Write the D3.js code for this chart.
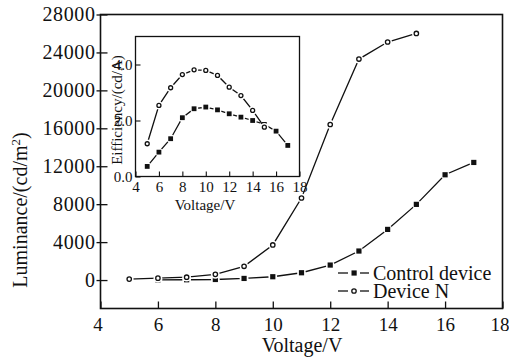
<!DOCTYPE html>
<html>
<head>
<meta charset="utf-8">
<script src="https://cdn.jsdelivr.net/npm/d3@7"></script>
<style>
  body { margin: 0; background: #fff; }
  svg text { font-family: "Liberation Serif", "Times New Roman", serif; fill: #111; }
</style>
</head>
<body>
<div id="chart"></div>
<script>
// main plot: luminance vs voltage
var lumVoltN = [5, 6, 7, 8, 9, 10, 11, 12, 13, 14, 15];
var lumDeviceN = [100, 200, 300, 600, 1450, 3700, 8650, 16400, 23300, 25100, 26000];
var lumVoltC = [6, 7, 8, 9, 10, 11, 12, 13, 14, 15, 16, 17];
var lumControl = [20, 30, 60, 170, 350, 770, 1580, 3060, 5340, 7980, 11100, 12400];

// inset: efficiency vs voltage
var effVoltN = [5, 6, 7, 8, 9, 10, 11, 12, 13, 14, 15];
var effDeviceN = [1.17, 2.54, 3.17, 3.64, 3.81, 3.79, 3.61, 3.19, 2.89, 2.36, 1.76];
var effVoltC = [5, 6, 7, 8, 9, 10, 11, 12, 13, 14, 15, 16, 17];
var effControl = [0.36, 0.87, 1.35, 2.1, 2.42, 2.48, 2.38, 2.24, 2.12, 2.0, 1.86, 1.62, 1.11];

var mainXTicks = [4, 6, 8, 10, 12, 14, 16, 18];
var mainYTicks = [0, 4000, 8000, 12000, 16000, 20000, 24000, 28000];
var insetXTicks = [4, 6, 8, 10, 12, 14, 16, 18];
var insetYTicks = [0, 2, 4];
var seriesNames = ["Control device", "Device N"];

var serif = "'Liberation Serif', 'Times New Roman', serif";
var W = 509, H = 359;
var svg = d3.select("#chart").append("svg")
  .attr("width", W)
  .attr("height", H);

// ---- main plot ----
var m = { left: 100.5, top: 14.5, right: 502.5, bottom: 308.5 };
var x = d3.scaleLinear().domain([4, 18]).range([m.left, m.right]);
var y = d3.scaleLinear().domain([-3000, 28000]).range([m.bottom, m.top]);

svg.append("rect")
  .attr("x", m.left).attr("y", m.top)
  .attr("width", m.right - m.left).attr("height", m.bottom - m.top)
  .style("fill", "none").style("stroke", "#111").style("stroke-width", 1.6);

// x ticks (inward)
svg.append("g")
  .attr("transform", "translate(0," + m.bottom + ")")
  .call(d3.axisBottom(x).tickValues(mainXTicks).tickSizeInner(-7).tickSizeOuter(0))
  .attr("font-family", serif)
  .call(g => g.select(".domain").remove())
  .call(g => g.selectAll("line").style("stroke", "#111").style("stroke-width", 1.3))
  .call(g => g.selectAll("text").style("font-family", serif).style("font-size", "19px")
    .attr("dy", "0.71em").attr("y", 9)
    .attr("dx", d => d == 18 ? -3 : (d == 4 ? -3 : 0)));

// y ticks (crossing the frame)
svg.append("g")
  .attr("transform", "translate(" + m.left + ",0)")
  .call(d3.axisLeft(y).tickValues(mainYTicks).tickSize(4).tickSizeOuter(0).tickFormat(d3.format("d")))
  .attr("font-family", serif)
  .call(g => g.select(".domain").remove())
  .call(g => g.selectAll("line").attr("x2", 7).attr("x1", -4).style("stroke", "#111").style("stroke-width", 1.3))
  .call(g => g.selectAll("text").style("font-family", serif).style("font-size", "20px")
    .style("letter-spacing", "0.6px").attr("x", -5));

svg.append("text")
  .attr("x", 302).attr("y", 352)
  .style("text-anchor", "middle").style("font-size", "20px")
  .text("Voltage/V");

var yt = svg.append("text")
  .attr("transform", "translate(27,210) rotate(-90)")
  .style("text-anchor", "middle").style("font-size", "20px");
yt.append("tspan").text("Luminance/(cd/m");
yt.append("tspan").attr("dy", -7).style("font-size", "13px").text("2");
yt.append("tspan").attr("dy", 7).text(")");

function drawSeries(g, xs, ys, sx, sy, kind, size) {
  g.append("path")
    .datum(ys)
    .attr("d", d3.line().x((d, i) => sx(xs[i])).y(d => sy(d)))
    .style("fill", "none").style("stroke", "#111").style("stroke-width", 1.3);
  // white halos leave small gaps around markers
  g.selectAll(".halo").data(ys).enter().append("circle")
    .attr("cx", (d, i) => sx(xs[i])).attr("cy", d => sy(d))
    .attr("r", size + 1.8).style("fill", "#fff");
  if (kind == "square") {
    g.selectAll(".mk").data(ys).enter().append("rect")
      .attr("x", (d, i) => sx(xs[i]) - size).attr("y", d => sy(d) - size)
      .attr("width", size * 2).attr("height", size * 2)
      .style("fill", "#111");
  } else {
    g.selectAll(".mk").data(ys).enter().append("circle")
      .attr("cx", (d, i) => sx(xs[i])).attr("cy", d => sy(d))
      .attr("r", size - 0.4)
      .style("fill", "#fff").style("stroke", "#111").style("stroke-width", 1.3);
  }
}

var gMain = svg.append("g");
drawSeries(gMain.append("g"), lumVoltC, lumControl, x, y, "square", 2.6);
drawSeries(gMain.append("g"), lumVoltN, lumDeviceN, x, y, "circle", 2.6);

// legend
var legend = svg.append("g");
seriesNames.forEach(function (name, i) {
  var ly = 273 + i * 18;
  legend.append("line").attr("x1", 338).attr("x2", 369).attr("y1", ly).attr("y2", ly)
    .style("stroke", "#111").style("stroke-width", 1.3);
  legend.append("rect").attr("x", 348).attr("y", ly - 4).attr("width", 12).attr("height", 8).style("fill", "#fff");
  if (i == 0) {
    legend.append("rect").attr("x", 351.5).attr("y", ly - 2.6).attr("width", 5.2).attr("height", 5.2).style("fill", "#111");
  } else {
    legend.append("circle").attr("cx", 354).attr("cy", ly).attr("r", 2.2)
      .style("fill", "#fff").style("stroke", "#111").style("stroke-width", 1.3);
  }
  legend.append("text").attr("x", 373).attr("y", ly + 7)
    .style("font-size", "20px").text(name);
});

// ---- inset ----
var n = { left: 135.5, top: 36.5, right: 299.5, bottom: 176.5 };
var ix = d3.scaleLinear().domain([4, 18]).range([n.left, n.right]);
var iy = d3.scaleLinear().domain([0, 5]).range([n.bottom, n.top]);

svg.append("rect")
  .attr("x", n.left).attr("y", n.top)
  .attr("width", n.right - n.left).attr("height", n.bottom - n.top)
  .style("fill", "#fff").style("stroke", "#111").style("stroke-width", 1.3);

svg.append("g")
  .attr("transform", "translate(0," + n.bottom + ")")
  .call(d3.axisBottom(ix).tickValues(insetXTicks).tickSizeInner(-5).tickSizeOuter(0))
  .attr("font-family", serif)
  .call(g => g.select(".domain").remove())
  .call(g => g.selectAll("line").style("stroke", "#111").style("stroke-width", 1.1))
  .call(g => g.selectAll("text").style("font-family", serif).style("font-size", "15px")
    .attr("y", 5).attr("dy", "0.71em"));

svg.append("g")
  .attr("transform", "translate(" + n.left + ",0)")
  .call(d3.axisLeft(iy).tickValues(insetYTicks).tickSizeInner(-5).tickSizeOuter(0))
  .attr("font-family", serif)
  .call(g => g.select(".domain").remove())
  .call(g => g.selectAll("line").style("stroke", "#111").style("stroke-width", 1.1))
  .call(g => g.selectAll("text").style("font-family", serif).style("font-size", "15px").attr("x", -3));

svg.append("text")
  .attr("x", 205).attr("y", 210)
  .style("text-anchor", "middle").style("font-size", "15px")
  .text("Voltage/V");

svg.append("text")
  .attr("transform", "translate(122,110) rotate(-90)")
  .style("text-anchor", "middle").style("font-size", "15px")
  .text("Eifficiency/(cd/A)");

var gIn = svg.append("g");
drawSeries(gIn.append("g"), effVoltC, effControl, ix, iy, "square", 2.4);
drawSeries(gIn.append("g"), effVoltN, effDeviceN, ix, iy, "circle", 2.4);
</script>
</body>
</html>
